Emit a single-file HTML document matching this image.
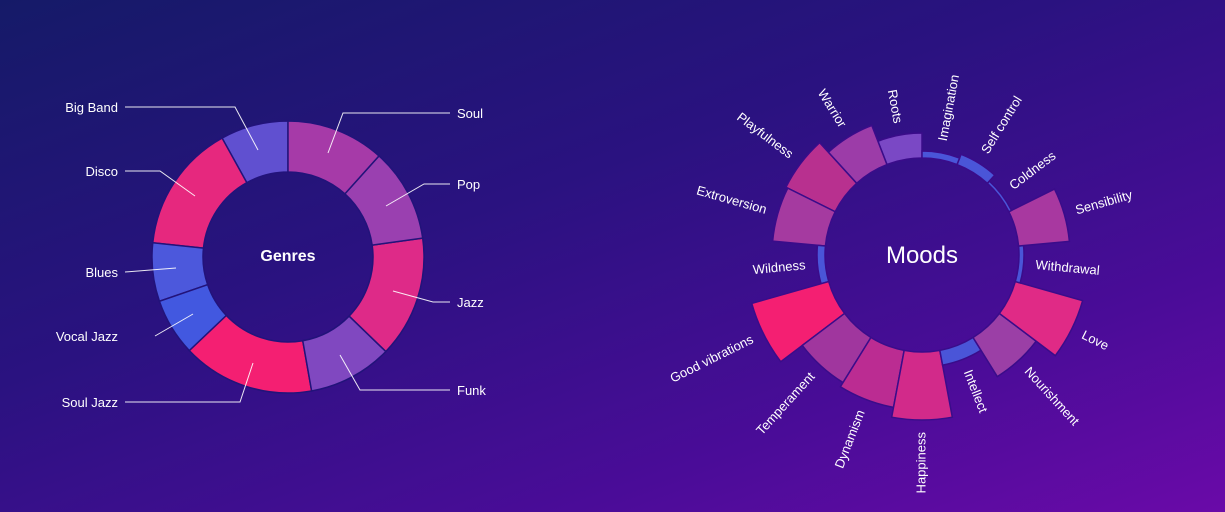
<!DOCTYPE html>
<html><head><meta charset="utf-8"><style>
html,body{margin:0;padding:0;width:1225px;height:512px;overflow:hidden;}
body{background:linear-gradient(160deg,#151a68 0%,#2a1280 40%,#4a0c98 75%,#6a0aa8 100%);}
svg{position:absolute;left:0;top:0;font-family:"Liberation Sans",sans-serif;}
text{fill:#fff;}
</style></head><body>
<svg id="s" width="1225" height="512" viewBox="0 0 1225 512">
<g stroke="#fff" stroke-width="1" fill="none" opacity="0.9">
<polyline points="125,107 235,107 258,150"/>
<polyline points="125,171 160,171 195,196"/>
<polyline points="125,272 176,268"/>
<polyline points="155,336 193,314"/>
<polyline points="125,402 240,402 253,363"/>
<polyline points="450,113 343,113 328,153"/>
<polyline points="450,184 424,184 386,206"/>
<polyline points="450,302 433,302 393,291"/>
<polyline points="450,390 360,390 340,355"/>
</g>
<g font-size="13">
<text x="118" y="112" text-anchor="end">Big Band</text>
<text x="118" y="176" text-anchor="end">Disco</text>
<text x="118" y="277" text-anchor="end">Blues</text>
<text x="118" y="341" text-anchor="end">Vocal Jazz</text>
<text x="118" y="407" text-anchor="end">Soul Jazz</text>
<text x="457" y="118">Soul</text>
<text x="457" y="189">Pop</text>
<text x="457" y="307">Jazz</text>
<text x="457" y="395">Funk</text>
</g>
<text x="288" y="261" font-size="16" font-weight="bold" text-anchor="middle">Genres</text>
<text x="922" y="263" font-size="24" text-anchor="middle">Moods</text>
</svg>
<script>
var s=document.getElementById('s'),NS='http://www.w3.org/2000/svg';
function pt(cx,cy,r,a){a=a*Math.PI/180;return [cx+r*Math.sin(a),cy-r*Math.cos(a)];}
function arc(cx,cy,r0,r1,a0,a1,fill,stroke){
 var p1=pt(cx,cy,r1,a0),p2=pt(cx,cy,r1,a1),p3=pt(cx,cy,r0,a1),p4=pt(cx,cy,r0,a0),l=(a1-a0)>180?1:0;
 var d='M'+p1+'A'+r1+','+r1+' 0 '+l+' 1 '+p2+'L'+p3+'A'+r0+','+r0+' 0 '+l+' 0 '+p4+'Z';
 var e=document.createElementNS(NS,'path');e.setAttribute('d',d);e.setAttribute('fill',fill);
 e.setAttribute('stroke',stroke);e.setAttribute('stroke-width','1.5');s.insertBefore(e,s.firstChild);}
var g=[[0,42,'#a63aa8'],[42,82,'#9a40b0'],[82,134,'#de2a88'],[134,170,'#8048c0'],[170,226.5,'#f41f72'],[226.5,251,'#4258e0'],[251,276,'#4c58dc'],[276,331,'#e6287e'],[331,360,'#6050d0']];
g.forEach(function(x){arc(288,257,85,136,x[0],x[1],x[2],'#22137a');});
var m=[['Imagination',104,'#4a55d8'],['Self control',108,'#4a55d8'],['Coldness',100,'#4a55d8'],['Sensibility',148,'#a838a0'],['Withdrawal',102,'#4a55d8'],['Love',167,'#e02a86'],['Nourishment',143,'#9b3fa6'],['Intellect',112,'#4a55d8'],['Happiness',165,'#d22a8a'],['Dynamism',155,'#bb2c92'],['Temperament',150,'#a0369e'],['Good vibrations',177,'#f41f72'],['Wildness',105,'#4a55d8'],['Extroversion',150,'#a53aa0'],['Playfulness',152,'#b8308f'],['Warrior',139,'#9c3ca8'],['Roots',122,'#7a48c5']];
var w=360/17,cx=922,cy=255;
m.forEach(function(x,i){var a0=i*w,a1=a0+w;arc(cx,cy,97,x[1],a0,a1,x[2],'#3a0c8a');
 var am=a0+w/2,p=pt(cx,cy,x[1]+12,am),t=document.createElementNS(NS,'text');
 t.setAttribute('x',p[0]);t.setAttribute('y',p[1]);t.setAttribute('font-size','13');t.setAttribute('dominant-baseline','middle');
 var rot;if(am<180){rot=am-90;t.setAttribute('text-anchor','start');}else{rot=am+90;t.setAttribute('text-anchor','end');}
 t.setAttribute('transform','rotate('+rot+' '+p[0]+' '+p[1]+')');t.textContent=x[0];s.appendChild(t);});
</script>
</body></html>
